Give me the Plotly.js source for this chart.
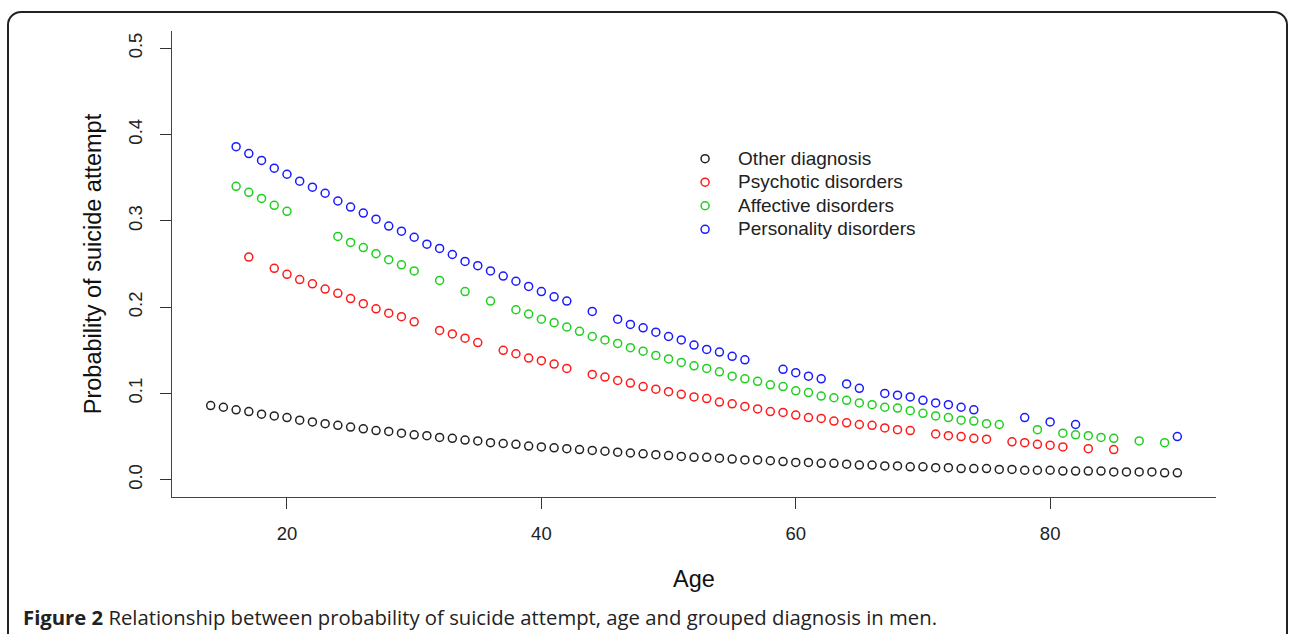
<!DOCTYPE html>
<html>
<head>
<meta charset="utf-8">
<script src="https://cdn.plot.ly/plotly-3.0.1.min.js"></script>
<style>
  html, body { margin: 0; padding: 0; background: #fff; }
  #wrap { position: relative; width: 1289px; height: 634px; overflow: hidden; }
  #chart { position: absolute; left: 0; top: 0; width: 1289px; height: 634px; }
  #frame { position: absolute; left: 7px; top: 11px; width: 1277px; height: 700px;
           border: 2px solid #222; border-radius: 14px; pointer-events: none; }
</style>
</head>
<body>
<div id="wrap">
  <div id="chart"></div>
  <div id="frame"></div>
</div>
<script>
// ---- Data ----
const seriesNames = ["Other diagnosis", "Psychotic disorders", "Affective disorders", "Personality disorders"];

const otherAge = [14,15,16,17,18,19,20,21,22,23,24,25,26,27,28,29,30,31,32,33,34,35,36,37,38,39,40,41,42,43,44,45,46,47,48,49,50,51,52,53,54,55,56,57,58,59,60,61,62,63,64,65,66,67,68,69,70,71,72,73,74,75,76,77,78,79,80,81,82,83,84,85,86,87,88,89,90];
const otherProb = [0.086,0.084,0.081,0.079,0.076,0.074,0.072,0.069,0.067,0.065,0.063,0.061,0.059,0.057,0.056,0.054,0.052,0.051,0.049,0.048,0.046,0.045,0.043,0.042,0.041,0.039,0.038,0.037,0.036,0.035,0.034,0.033,0.032,0.031,0.030,0.029,0.028,0.027,0.026,0.026,0.025,0.024,0.023,0.023,0.022,0.021,0.020,0.020,0.019,0.019,0.018,0.017,0.017,0.016,0.016,0.015,0.015,0.014,0.014,0.013,0.013,0.013,0.012,0.012,0.011,0.011,0.011,0.010,0.010,0.010,0.010,0.009,0.009,0.009,0.009,0.008,0.008];

const psychAge = [17,19,20,21,22,23,24,25,26,27,28,29,30,32,33,34,35,37,38,39,40,41,42,44,45,46,47,48,49,50,51,52,53,54,55,56,57,58,59,60,61,62,63,64,65,66,67,68,69,71,72,73,74,75,77,78,79,80,81,83,85];
const psychProb = [0.258,0.245,0.238,0.232,0.227,0.221,0.216,0.210,0.204,0.198,0.193,0.189,0.183,0.173,0.169,0.164,0.159,0.150,0.146,0.141,0.138,0.134,0.129,0.122,0.119,0.115,0.112,0.108,0.105,0.102,0.099,0.096,0.094,0.090,0.088,0.085,0.082,0.079,0.078,0.075,0.072,0.071,0.068,0.066,0.064,0.063,0.060,0.058,0.057,0.053,0.051,0.050,0.048,0.047,0.044,0.043,0.041,0.040,0.038,0.036,0.035];

const affAge = [16,17,18,19,20,24,25,26,27,28,29,30,32,34,36,38,39,40,41,42,43,44,45,46,47,48,49,50,51,52,53,54,55,56,57,58,59,60,61,62,63,64,65,66,67,68,69,70,71,72,73,74,75,76,79,81,82,83,84,85,87,89];
const affProb = [0.340,0.333,0.326,0.318,0.311,0.282,0.275,0.269,0.262,0.255,0.249,0.242,0.231,0.218,0.207,0.197,0.192,0.186,0.182,0.177,0.172,0.166,0.162,0.158,0.153,0.149,0.144,0.140,0.136,0.132,0.129,0.125,0.120,0.117,0.114,0.110,0.108,0.103,0.101,0.097,0.095,0.092,0.089,0.087,0.084,0.083,0.080,0.077,0.074,0.072,0.069,0.068,0.065,0.064,0.058,0.054,0.052,0.051,0.049,0.048,0.045,0.043];

const persAge = [16,17,18,19,20,21,22,23,24,25,26,27,28,29,30,31,32,33,34,35,36,37,38,39,40,41,42,44,46,47,48,49,50,51,52,53,54,55,56,59,60,61,62,64,65,67,68,69,70,71,72,73,74,78,80,82,90];
const persProb = [0.386,0.378,0.370,0.361,0.354,0.346,0.339,0.332,0.323,0.316,0.309,0.302,0.294,0.288,0.281,0.273,0.268,0.261,0.253,0.248,0.242,0.236,0.230,0.224,0.218,0.212,0.207,0.195,0.186,0.180,0.176,0.171,0.166,0.162,0.156,0.151,0.148,0.143,0.139,0.128,0.124,0.120,0.117,0.111,0.106,0.100,0.098,0.096,0.092,0.089,0.087,0.084,0.081,0.072,0.067,0.064,0.050];

const xTicks = [20, 40, 60, 80];
const yTicks = [0.0, 0.1, 0.2, 0.3, 0.4, 0.5];
const yTickText = ["0.0", "0.1", "0.2", "0.3", "0.4", "0.5"];

const captionBold = "Figure 2";
const captionText = "Relationship between probability of suicide attempt, age and grouped diagnosis in men.";

// ---- Traces ----
const colors = ["#222222", "#ff1a1a", "#1fcf1f", "#1a1aff"];
const xs = [otherAge, psychAge, affAge, persAge];
const ys = [otherProb, psychProb, affProb, persProb];

const traces = seriesNames.map((name, i) => ({
  type: "scatter",
  mode: "markers",
  name: '<span style="font-size:19px">' + name + '</span>',
  x: xs[i],
  y: ys[i],
  marker: { symbol: "circle-open", size: 8, color: colors[i], line: { width: 1.5, color: colors[i] } },
  hovertemplate: name + "<br>Age %{x}: %{y}<extra></extra>"
}));

const fam = "Liberation Sans, Arial, sans-serif";
const axisFont = { family: fam, size: 18.5, color: "#222" };

const layout = {
  width: 1289,
  height: 634,
  margin: { l: 172, r: 73, t: 31, b: 137 },
  paper_bgcolor: "rgba(0,0,0,0)",
  plot_bgcolor: "rgba(0,0,0,0)",
  showlegend: true,
  legend: {
    x: 0.479, y: 0.762, xanchor: "left", yanchor: "top",
    font: { family: fam, size: 15.8, color: "#222" },
    bgcolor: "rgba(0,0,0,0)", borderwidth: 0,
    itemwidth: 56, tracegroupgap: 0
  },
  xaxis: {
    range: [10.96, 93.04],
    tickvals: xTicks,
    ticktext: xTicks.map(String),
    ticks: "outside", ticklen: 11, tickwidth: 1.2, tickcolor: "#333",
    showline: true, linecolor: "#444", linewidth: 1.4,
    showgrid: false, zeroline: false,
    tickfont: axisFont,
    ticklabelstandoff: 9,
    title: { text: "Age", font: { family: fam, size: 23.5, color: "#111" }, standoff: 27 },
    automargin: false
  },
  yaxis: {
    range: [-0.02, 0.52],
    tickvals: yTicks,
    ticktext: yTickText,
    tickangle: -90,
    ticks: "outside", ticklen: 11, tickwidth: 1.2, tickcolor: "#333",
    showline: true, linecolor: "#444", linewidth: 1.4,
    showgrid: false, zeroline: false,
    tickfont: axisFont,
    ticklabelstandoff: 10,
    title: { text: "Probability of suicide attempt", font: { family: fam, size: 23.5, color: "#111" }, standoff: 17 },
    automargin: false
  },
  annotations: [{
    xref: "paper", yref: "paper",
    x: -0.1446, y: -0.258, xanchor: "left", yanchor: "middle",
    showarrow: false, align: "left",
    text: "<b>" + captionBold + "</b> " + captionText,
    font: { family: "Open Sans, sans-serif", size: 20.3, color: "#222" }
  }]
};

Plotly.newPlot("chart", traces, layout, { displayModeBar: false });
</script>
</body>
</html>
